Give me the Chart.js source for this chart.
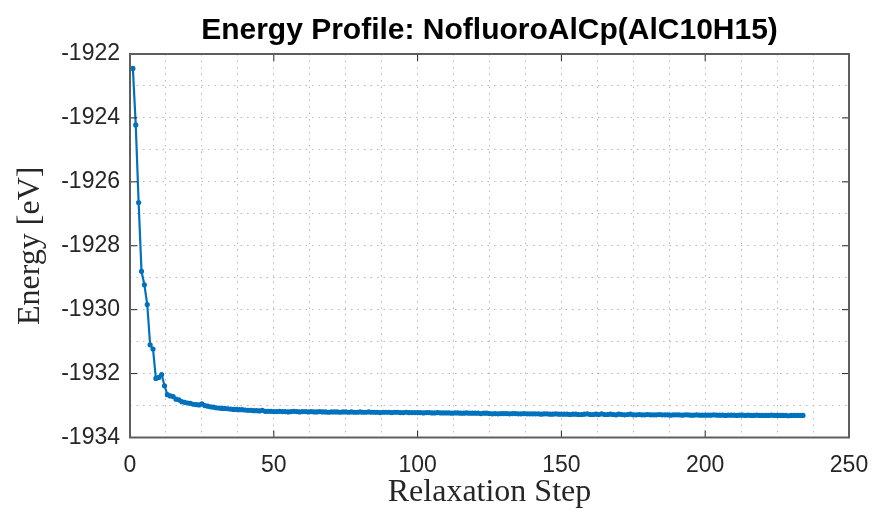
<!DOCTYPE html>
<html>
<head>
<meta charset="utf-8">
<script src="https://cdn.jsdelivr.net/npm/chart.js@4"></script>
<style>
  html, body { margin: 0; padding: 0; background: #fff; }
  #wrap { width: 876px; height: 512px; }
</style>
</head>
<body>
<div id="wrap"><canvas id="energyChart" width="876" height="512"></canvas></div>
<script>
const chartTitle = "Energy Profile: NofluoroAlCp(AlC10H15)";
const xLabel = "Relaxation Step";
const yLabel = "Energy [eV]";

const xTicks = [0, 50, 100, 150, 200, 250];
const yTicks = [-1934, -1932, -1930, -1928, -1926, -1924, -1922];

// energy per relaxation step (step 1 .. 234)
const energy = [
  -1922.45, -1924.22, -1926.65, -1928.80, -1929.22, -1929.84, -1931.10, -1931.23, -1932.15, -1932.12,
  -1932.03, -1932.38, -1932.66, -1932.70, -1932.72, -1932.80, -1932.82, -1932.88, -1932.90, -1932.92,
  -1932.93, -1932.96, -1932.97, -1932.98, -1932.95, -1933.00, -1933.02, -1933.04, -1933.05, -1933.07,
  -1933.08, -1933.09, -1933.09, -1933.10, -1933.11, -1933.12, -1933.12, -1933.13, -1933.13, -1933.14,
  -1933.15, -1933.15, -1933.16, -1933.16, -1933.17, -1933.15, -1933.18, -1933.18, -1933.18, -1933.19,
  -1933.19, -1933.18, -1933.19, -1933.19, -1933.20, -1933.19, -1933.18, -1933.19, -1933.20, -1933.19,
  -1933.19, -1933.20, -1933.19, -1933.20, -1933.20, -1933.19, -1933.20, -1933.20, -1933.21, -1933.20,
  -1933.20, -1933.20, -1933.21, -1933.20, -1933.20, -1933.21, -1933.20, -1933.21, -1933.21, -1933.20,
  -1933.21, -1933.21, -1933.20, -1933.21, -1933.21, -1933.21, -1933.22, -1933.21, -1933.21, -1933.21,
  -1933.22, -1933.21, -1933.21, -1933.22, -1933.22, -1933.21, -1933.22, -1933.22, -1933.22, -1933.22,
  -1933.22, -1933.23, -1933.22, -1933.22, -1933.23, -1933.23, -1933.22, -1933.23, -1933.23, -1933.23,
  -1933.23, -1933.24, -1933.23, -1933.23, -1933.24, -1933.24, -1933.23, -1933.24, -1933.24, -1933.24,
  -1933.24, -1933.25, -1933.24, -1933.24, -1933.25, -1933.26, -1933.25, -1933.26, -1933.25, -1933.25,
  -1933.25, -1933.26, -1933.25, -1933.25, -1933.26, -1933.26, -1933.25, -1933.26, -1933.26, -1933.26,
  -1933.26, -1933.26, -1933.27, -1933.26, -1933.26, -1933.27, -1933.27, -1933.26, -1933.27, -1933.27,
  -1933.27, -1933.27, -1933.28, -1933.27, -1933.27, -1933.28, -1933.28, -1933.27, -1933.26, -1933.28,
  -1933.28, -1933.27, -1933.28, -1933.26, -1933.28, -1933.28, -1933.27, -1933.28, -1933.29, -1933.27,
  -1933.28, -1933.29, -1933.28, -1933.27, -1933.29, -1933.29, -1933.28, -1933.29, -1933.29, -1933.28,
  -1933.29, -1933.29, -1933.29, -1933.28, -1933.29, -1933.29, -1933.29, -1933.30, -1933.29, -1933.29,
  -1933.29, -1933.30, -1933.29, -1933.29, -1933.30, -1933.30, -1933.29, -1933.30, -1933.30, -1933.30,
  -1933.30, -1933.30, -1933.29, -1933.30, -1933.30, -1933.30, -1933.31, -1933.30, -1933.30, -1933.30,
  -1933.31, -1933.30, -1933.30, -1933.31, -1933.30, -1933.31, -1933.31, -1933.30, -1933.31, -1933.31,
  -1933.31, -1933.31, -1933.30, -1933.31, -1933.31, -1933.31, -1933.31, -1933.31, -1933.32, -1933.31,
  -1933.31, -1933.31, -1933.31, -1933.31
];

const points = energy.map((e, i) => ({ x: i + 1, y: e }));

// box around the axes plus little inward tick marks, like matlab does
const axesBox = {
  id: 'axesBox',
  afterDraw(chart) {
    const { ctx, chartArea: a, scales } = chart;
    ctx.save();
    ctx.strokeStyle = '#262626';
    ctx.lineWidth = 1;
    const len = 7;
    xTicks.forEach(v => {
      const px = scales.x.getPixelForValue(v);
      ctx.beginPath();
      ctx.moveTo(px, a.bottom); ctx.lineTo(px, a.bottom - len);
      ctx.moveTo(px, a.top); ctx.lineTo(px, a.top + len);
      ctx.stroke();
    });
    yTicks.forEach(v => {
      const py = scales.y.getPixelForValue(v);
      ctx.beginPath();
      ctx.moveTo(a.left, py); ctx.lineTo(a.left + len, py);
      ctx.moveTo(a.right, py); ctx.lineTo(a.right - len, py);
      ctx.stroke();
    });
    ctx.strokeStyle = '#5e5e5e';
    ctx.lineWidth = 2;
    ctx.strokeRect(a.left, a.top, a.right - a.left, a.bottom - a.top);
    ctx.restore();
  }
};

const ctx = document.getElementById('energyChart').getContext('2d');

new Chart(ctx, {
  type: 'line',
  data: {
    datasets: [{
      data: points,
      borderColor: '#0072BD',
      backgroundColor: '#0072BD',
      borderWidth: 2.2,
      pointRadius: 1.5,
      pointHoverRadius: 1.5,
      tension: 0,
      fill: false
    }]
  },
  options: {
    responsive: false,
    animation: false,
    events: [],
    layout: { padding: { left: 0, right: 27, top: 0, bottom: 0 } },
    plugins: {
      legend: { display: false },
      tooltip: { enabled: false },
      title: {
        display: true,
        fullSize: false,
        text: chartTitle,
        color: '#000',
        font: { family: 'Liberation Sans, Arial, sans-serif', size: 30, weight: 'bold', lineHeight: 1.2 },
        padding: { top: 13, bottom: 5 }
      }
    },
    scales: {
      x: {
        type: 'linear',
        min: 0,
        max: 250,
        afterFit(scale) {
          scale.height = 74.5;
          scale.paddingLeft = 0;
          scale.paddingRight = 0;
        },
        afterBuildTicks(scale) {
          const t = [];
          for (let v = 0; v <= 250; v += 12.5) t.push({ value: v });
          scale.ticks = t;
        },
        ticks: {
          autoSkip: false,
          maxRotation: 0,
          padding: 14,
          color: '#262626',
          font: { family: 'Liberation Sans, Arial, sans-serif', size: 23 },
          callback: v => xTicks.includes(v) ? String(v) : ''
        },
        grid: {
          color: '#b8b8b8',
          lineWidth: 1,
          drawTicks: false
        },
        border: { display: false, dash: [1.5, 5] },
        title: {
          display: true,
          text: xLabel,
          color: '#262626',
          font: { family: 'Liberation Serif, Times New Roman, serif', size: 32 },
          padding: { top: 0, bottom: 0 }
        }
      },
      y: {
        type: 'linear',
        min: -1934,
        max: -1922,
        afterFit(scale) { scale.width = 130; },
        afterBuildTicks(scale) {
          const t = [];
          for (let v = -1934; v <= -1922; v += 1) t.push({ value: v });
          scale.ticks = t;
        },
        ticks: {
          autoSkip: false,
          padding: 10,
          color: '#262626',
          font: { family: 'Liberation Sans, Arial, sans-serif', size: 23 },
          callback: v => yTicks.includes(v) ? String(v) : ''
        },
        grid: {
          color: '#b8b8b8',
          lineWidth: 1,
          drawTicks: false
        },
        border: { display: false, dash: [1.5, 5] },
        title: {
          display: true,
          text: yLabel,
          color: '#262626',
          font: { family: 'Liberation Serif, Times New Roman, serif', size: 32 },
          padding: { top: 11, bottom: 0 }
        }
      }
    }
  },
  plugins: [axesBox]
});
</script>
</body>
</html>
